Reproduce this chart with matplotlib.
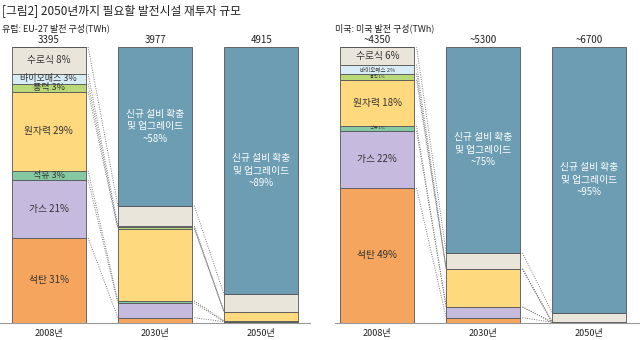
import matplotlib.pyplot as plt

plt.rcParams['font.family'] = ['Noto Sans CJK KR', 'DejaVu Sans']

years = ['2008년', '2030년', '2050년']
names = ['석탄', '가스', '석유', '원자력', '풍력', '바이오매스', '수로식', '신규']
colors = ['#F6A55E', '#C7BADF', '#84C9A3', '#FFD97E', '#B9D878', '#D8ECF6', '#E9E5DB', '#6C9DB3']

# EU-27 shares (%), bottom to top, as drawn
eu_2008 = [30.8, 21.0, 3.3, 28.6, 2.9, 3.6, 9.8, 0]
eu_2030 = [1.9, 5.4, 0.7, 26.1, 0.5, 0.6, 7.3, 57.5]
eu_2050 = [0.5, 0, 0.3, 3.3, 0, 0, 6.3, 89.6]
eu_2008_pct = [31, 21, 3, 29, 3, 3, 8]
eu_totals = ['3395', '3977', '4915']
eu_new = ['~58%', '~89%']

# US shares (%)
us_2008 = [48.9, 20.7, 1.8, 16.7, 2.2, 3.3, 6.5, 0]
us_2030 = [1.9, 3.9, 0, 13.8, 0, 0, 5.8, 74.6]
us_2050 = [0.3, 0, 0, 0, 0, 0, 3.5, 96.2]
us_2008_pct = [49, 22, 1, 18, 1, 2, 6]
us_totals = ['~4350', '~5300', '~6700']
us_new = ['~75%', '~95%']

eu_fs = [7, 7, 6.5, 7, 6.5, 6.5, 7]
us_fs = [7, 7, 3, 7, 3, 4, 7]

W = 0.7


def draw_panel(ax, bars, pct, totals, new_labels, label_fs):
    cums = []
    for i, b in enumerate(bars):
        bottom = 0
        cum = [0]
        for k, v in enumerate(b):
            ax.bar(i, v, W, bottom=bottom, color=colors[k], edgecolor='#555555', linewidth=0.6)
            bottom += v
            cum.append(bottom)
        cums.append(cum)
        ax.text(i, 102.6, totals[i], ha='center', va='center', fontsize=7, color='#222222')
        ax.text(i, -3.8, years[i], ha='center', va='center', fontsize=6.5, color='#222222')

    # labels on first bar
    for k in range(len(pct)):
        mid = cums[0][k] + bars[0][k] / 2
        ax.text(0, mid, f'{names[k]} {pct[k]}%', ha='center', va='center',
                fontsize=label_fs[k], color='#333333')

    # new-build labels
    for i in (1, 2):
        mid = (cums[i][7] + cums[i][8]) / 2
        ax.text(i, mid, '신규 설비 확충\n및 업그레이드\n' + new_labels[i - 1], ha='center',
                va='center', fontsize=7, color='white', linespacing=1.3)

    # dotted connectors
    for i in range(len(bars) - 1):
        for k in range(1, 8):
            ax.plot([i + W / 2 + 0.02, i + 1 - W / 2], [cums[i][k], cums[i + 1][k]],
                    linestyle=(0, (1, 1.4)), color='#7a7a7a', linewidth=0.7, zorder=0)

    ax.set_ylim(0, 100)
    for s in ['top', 'right', 'left']:
        ax.spines[s].set_visible(False)
    ax.spines['bottom'].set_color('#999999')
    ax.spines['bottom'].set_linewidth(0.8)
    ax.set_xticks([])
    ax.set_yticks([])


fig = plt.figure(figsize=(6.4, 3.4), dpi=100)
ax1 = fig.add_axes([0, 0.05, 310 / 640, 0.812])
ax2 = fig.add_axes([335 / 640, 0.05, 305 / 640, 0.812])

draw_panel(ax1, [eu_2008, eu_2030, eu_2050], eu_2008_pct, eu_totals, eu_new, eu_fs)
ax1.set_xlim(-0.46, 2.46)
draw_panel(ax2, [us_2008, us_2030, us_2050], us_2008_pct, us_totals, us_new, us_fs)
ax2.set_xlim(-0.40, 2.48)

fig.text(0.003, 0.965, '[그림2] 2050년까지 필요할 발전시설 재투자 규모', fontsize=8.5,
         ha='left', va='center', color='#222222')
fig.text(0.003, 0.918, '유럽: EU-27 발전 구성(TWh)', fontsize=6.5, ha='left', va='center', color='#222222')
fig.text(335 / 640, 0.918, '미국: 미국 발전 구성(TWh)', fontsize=6.5, ha='left', va='center', color='#222222')

fig.savefig('out.png', dpi=100)
